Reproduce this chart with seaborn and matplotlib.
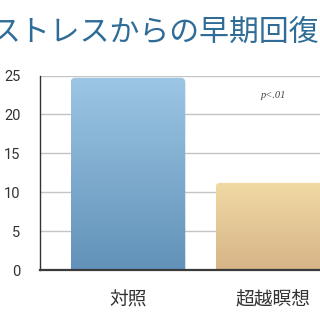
import numpy as np
import pandas as pd
import matplotlib
matplotlib.use("Agg")
import matplotlib.pyplot as plt
import seaborn as sns
from matplotlib.patches import FancyBboxPatch
from matplotlib.colors import LinearSegmentedColormap

categories = ["対照", "超越瞑想"]
values = [24.7, 11.2]
title = "ストレスからの早期回復"
annotation = "p<.01"
yticks = [0, 5, 10, 15, 20, 25]

top_colors = ["#9cc6e4", "#f1daa4"]
bottom_colors = ["#6292b9", "#d6b487"]

sns.set_theme(style="white")
plt.rcParams["font.family"] = ["Noto Sans CJK JP", "DejaVu Sans"]

df = pd.DataFrame({"group": categories, "value": values})

fig = plt.figure(figsize=(3.2, 3.2), dpi=100)
ax = fig.add_axes([40 / 320, 50 / 320, 320 / 320, 194.5 / 320])

sns.barplot(data=df, x="group", y="value", ax=ax, width=0.79,
            color="white", edgecolor="none", linewidth=0, zorder=2)

xlim = (-0.607, 1.6)
ylim = (0, 25)
ax.set_ylim(*ylim)
ax.set_xlim(*xlim)
ax.set_yticks(yticks)
ax.yaxis.grid(True, color="#c4c4c4", linewidth=1.0, zorder=0)
ax.xaxis.grid(False)
ax.set_axisbelow(True)

# pixels per data unit, for rounded corners
px_x = 320 / (xlim[1] - xlim[0])
px_y = 194.5 / (ylim[1] - ylim[0])

for i, patch in enumerate(ax.patches):
    x0, y0 = patch.get_x(), patch.get_y()
    w, h = patch.get_width(), patch.get_height()
    patch.set_visible(False)
    cmap = LinearSegmentedColormap.from_list(f"g{i}", [bottom_colors[i], top_colors[i]])
    grad = np.linspace(0, 1, 256).reshape(-1, 1)
    im = ax.imshow(grad, cmap=cmap, origin="lower", aspect="auto",
                   extent=(x0, x0 + w, y0, y0 + h), zorder=2)
    clip = FancyBboxPatch((x0, y0 - 1.0), w, h + 1.0,
                          boxstyle=f"round,pad=0,rounding_size={4.5 / px_x}",
                          mutation_aspect=px_x / px_y,
                          transform=ax.transData, facecolor="none", edgecolor="none")
    ax.add_patch(clip)
    clip.set_visible(False)
    im.set_clip_path(clip)

ax.set_xlim(*xlim)
ax.set_ylim(*ylim)

for s in ["top", "right"]:
    ax.spines[s].set_visible(False)
ax.spines["left"].set_color("#333333")
ax.spines["left"].set_linewidth(1.0)
ax.spines["bottom"].set_color("#3a3a3a")
ax.spines["bottom"].set_linewidth(1.6)
ax.spines["left"].set_zorder(3)
ax.spines["bottom"].set_zorder(3)

ax.set_xlabel("")
ax.set_ylabel("")
ax.tick_params(axis="both", length=0)
ax.tick_params(axis="y", pad=14, labelsize=10.5, labelcolor="#333333")
ax.tick_params(axis="x", pad=14, labelsize=13.5, labelcolor="#333333")
for lab in ax.get_yticklabels():
    lab.set_fontfamily(["Roboto", "DejaVu Sans"])

ax.text(1, 22.4, annotation, ha="center", va="center", fontsize=7.5,
        style="italic", family=["Liberation Serif", "DejaVu Serif"], color="#444444", zorder=4)

fig.text(-10 / 320, 1 - 32 / 320, title, ha="left", va="center", fontsize=21.5,
         color="#2f6d98", family=["Noto Sans CJK JP", "DejaVu Sans"])

fig.savefig("out.png", dpi=100)
